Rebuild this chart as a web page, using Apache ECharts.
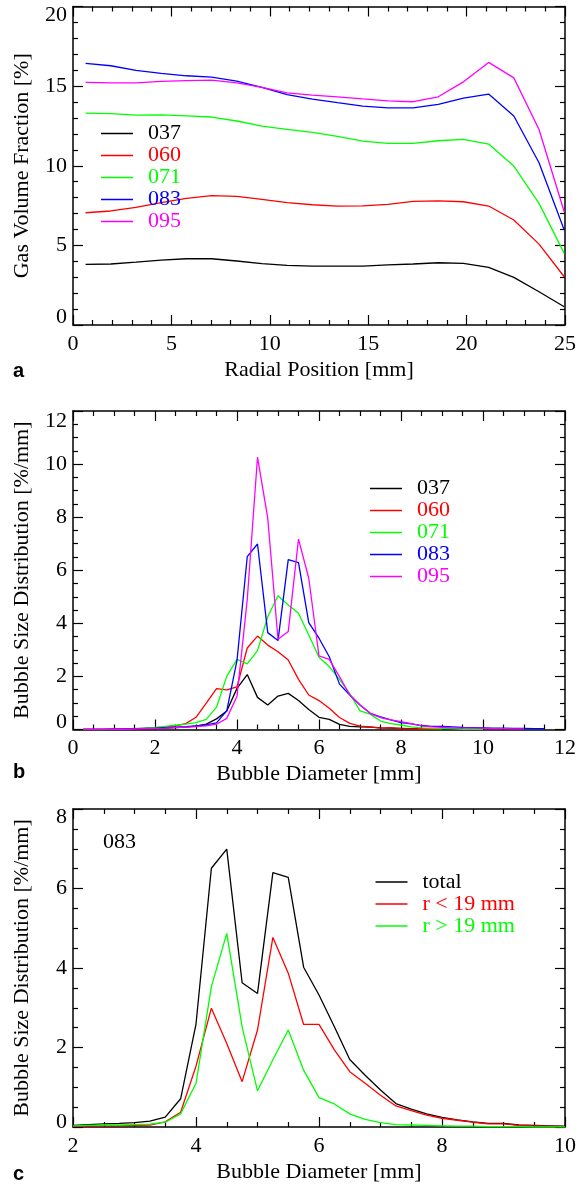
<!DOCTYPE html>
<html>
<head>
<meta charset="utf-8">
<script src="https://cdn.jsdelivr.net/npm/echarts@6/dist/echarts.min.js"></script>
<style>html,body{margin:0;padding:0;background:#fff;}#c{width:579px;height:1189px;}</style>
</head>
<body>
<div id="c"></div>
<script>
// ---------- Panel a: gas volume fraction vs radial position ----------
const radialPos = [0.64,1.92,3.2,4.48,5.76,7.04,8.32,9.6,10.88,12.16,13.44,14.72,16.0,17.28,18.56,19.84,21.12,22.4,23.68,24.96];
const gvf037 = [3.81,3.83,3.95,4.08,4.16,4.16,4.02,3.85,3.75,3.7,3.7,3.7,3.77,3.83,3.91,3.87,3.62,2.99,2.09,1.15];
const gvf060 = [7.05,7.16,7.39,7.68,7.95,8.12,8.08,7.89,7.68,7.55,7.47,7.48,7.58,7.76,7.8,7.74,7.47,6.59,5.08,3.03];
const gvf071 = [13.31,13.27,13.18,13.2,13.13,13.06,12.81,12.49,12.28,12.09,11.84,11.55,11.4,11.4,11.57,11.66,11.36,9.98,7.64,4.5];
const gvf083 = [16.43,16.28,15.99,15.8,15.65,15.57,15.32,14.92,14.46,14.19,13.96,13.75,13.64,13.64,13.85,14.25,14.5,13.12,10.19,5.96];
const gvf095 = [15.23,15.2,15.2,15.3,15.35,15.38,15.2,14.92,14.58,14.44,14.33,14.2,14.08,14.02,14.33,15.27,16.49,15.52,12.28,7.11];

// ---------- Panel b: bubble size distribution per case ----------
const diamB = [0.25,0.5,0.75,1.0,1.25,1.5,1.75,2.0,2.25,2.5,2.75,3.0,3.25,3.5,3.75,4.0,4.25,4.5,4.75,5.0,5.25,5.5,5.75,6.0,6.25,6.5,6.75,7.0,7.25,7.5,7.75,8.0,8.25,8.5,8.75,9.0,9.25,9.5,9.75,10.0,10.25,10.5,10.75,11.0,11.25,11.5];
const bsd037 = [0,0,0,0.01,0.01,0.02,0.03,0.04,0.05,0.07,0.09,0.13,0.2,0.4,0.7,1.55,2.07,1.21,0.92,1.26,1.36,1.09,0.75,0.46,0.38,0.19,0.12,0.1,0.09,0.06,0.05,0.04,0.03,0.02,0.02,0.01,0.01,0.0];
const bsd060 = [0,0,0,0.01,0.01,0.02,0.04,0.06,0.09,0.14,0.22,0.46,0.99,1.54,1.49,1.61,3.07,3.52,3.18,2.93,2.62,1.89,1.3,1.09,0.8,0.45,0.23,0.13,0.1,0.05,0.07,0.03,0.02,0.01,0.01,0.0];
const bsd071 = [0,0,0,0.01,0.02,0.03,0.05,0.08,0.12,0.16,0.2,0.26,0.38,0.84,2.0,2.64,2.47,2.97,4.25,5.04,4.69,4.38,3.56,2.72,2.37,1.89,1.35,0.7,0.58,0.32,0.22,0.17,0.1,0.06,0.04,0.03,0.02,0.01,0.01,0.0];
const bsd083 = [0,0,0,0.01,0.02,0.03,0.04,0.05,0.07,0.09,0.11,0.14,0.17,0.25,0.7,2.6,6.51,6.99,3.65,3.35,6.4,6.29,4.03,3.44,2.74,1.71,1.3,0.92,0.61,0.48,0.36,0.26,0.21,0.15,0.12,0.12,0.1,0.08,0.07,0.06,0.05,0.05,0.04,0.04,0.03,0.03];
const bsd095 = [0,0,0,0.01,0.01,0.02,0.03,0.04,0.05,0.07,0.09,0.11,0.14,0.2,0.42,1.25,4.9,10.26,7.96,3.4,3.69,7.17,5.7,2.77,2.64,1.99,1.3,0.92,0.61,0.45,0.36,0.3,0.22,0.14,0.1,0.08,0.06,0.05,0.05,0.04,0.03,0.03,0.02,0.02];

// ---------- Panel c: case 083 split by radius ----------
const diamC = [2.0,2.25,2.5,2.75,3.0,3.25,3.5,3.75,4.0,4.25,4.5,4.75,5.0,5.25,5.5,5.75,6.0,6.25,6.5,6.75,7.0,7.25,7.5,7.75,8.0,8.25,8.5,8.75,9.0,9.25,9.5,9.75,10.0];
const bsdTotal = [0.04,0.06,0.08,0.09,0.11,0.15,0.25,0.71,2.59,6.51,6.99,3.63,3.36,6.4,6.28,4.02,3.32,2.52,1.7,1.3,0.93,0.59,0.45,0.33,0.24,0.18,0.13,0.09,0.09,0.05,0.04,0.03,0.02];
const bsdInner = [0.02,0.02,0.03,0.03,0.04,0.05,0.13,0.37,1.53,2.99,2.1,1.14,2.44,4.77,3.87,2.58,2.58,1.94,1.39,1.1,0.8,0.53,0.41,0.3,0.22,0.17,0.12,0.08,0.08,0.04,0.03,0.02,0.01];
const bsdOuter = [0.03,0.04,0.05,0.05,0.06,0.07,0.12,0.33,1.1,3.53,4.87,2.52,0.91,1.69,2.44,1.43,0.74,0.58,0.33,0.19,0.11,0.06,0.05,0.04,0.03,0.02,0.02,0.01,0.01,0.01,0.0,0.0,0.0];

const namesB = ['037','060','071','083','095'];
const namesC = ['total','r < 19 mm','r > 19 mm'];
const xTicksA = {min:0, max:25, interval:5, minor:5};
const yTicksA = {min:0, max:20, interval:5, minor:5};
const xTicksB = {min:0, max:12, interval:2, minor:4};
const yTicksB = {min:0, max:12, interval:2, minor:4};
const xTicksC = {min:2, max:10, interval:2, minor:4};
const yTicksC = {min:0, max:8, interval:2, minor:4};

const COLORS = ['#000000','#ff0000','#00ff00','#0000ff','#ff00ff'];
const FONT = '"Liberation Serif","Times New Roman",serif';
const FS = 22;

function pairs(xs, ys){ return ys.map((y,i)=>[xs[i], y]); }

function axisCommon(t){
  return {
    type:'value', min:t.min, max:t.max, interval:t.interval,
    axisLine:{show:true, onZero:false, lineStyle:{color:'#000', width:1.5}},
    axisTick:{show:true, inside:true, length:10, lineStyle:{color:'#000', width:1.2}},
    minorTick:{show:true, splitNumber:t.minor, length:5, lineStyle:{color:'#000', width:1.2}},
    splitLine:{show:false}, minorSplitLine:{show:false}
  };
}
function xAxesFor(g, t, name){
  const b = Object.assign(axisCommon(t), {
    gridIndex:g, position:'bottom',
    axisLabel:{show:true, margin:8, color:'#000', fontFamily:FONT, fontSize:FS},
    name:name, nameLocation:'middle', nameGap:34,
    nameTextStyle:{color:'#000', fontFamily:FONT, fontSize:FS}
  });
  const tp = Object.assign(axisCommon(t), {gridIndex:g, position:'top', axisLabel:{show:false}});
  return [b, tp];
}
function yAxesFor(g, t, name, padTop, padBot){
  const l = Object.assign(axisCommon(t), {
    gridIndex:g, position:'left',
    axisLabel:{show:true, margin:6, color:'#000', fontFamily:FONT, fontSize:FS,
      formatter:function(v){
        if (v === t.max) return '{t|' + v + '}';
        if (v === t.min) return '{b|' + v + '}';
        return String(v);
      },
      rich:{
        t:{padding:[padTop,0,0,0], fontFamily:FONT, fontSize:FS, color:'#000'},
        b:{padding:[0,0,padBot,0], fontFamily:FONT, fontSize:FS, color:'#000'}
      }
    },
    name:name, nameLocation:'middle', nameGap:40,
    nameTextStyle:{color:'#000', fontFamily:FONT, fontSize:FS}
  });
  const r = Object.assign(axisCommon(t), {gridIndex:g, position:'right', axisLabel:{show:false}});
  return [l, r];
}
function lineSeries(name, data, color, xi, yi){
  return {type:'line', name:name, data:data, xAxisIndex:xi, yAxisIndex:yi,
    symbol:'none', showSymbol:false, smooth:false, clip:true,
    lineStyle:{color:color, width:1.3}, itemStyle:{color:color}, emphasis:{disabled:true}};
}
function legendFor(names, colors, left, top){
  return {
    orient:'vertical', left:left, top:top, itemGap:0, itemWidth:32, itemHeight:1.5,
    icon:'rect', selectedMode:false, padding:5,
    textStyle:{fontFamily:FONT, fontSize:FS, lineHeight:21, padding:[0,0,0,10]},
    data:names.map((n,i)=>({name:n, itemStyle:{color:colors[i]}, textStyle:{color:colors[i]}}))
  };
}

const chart = echarts.init(document.getElementById('c'), null, {renderer:'canvas'});
const seriesA = [gvf037,gvf060,gvf071,gvf083,gvf095].map((ys,i)=>lineSeries(namesB[i], pairs(radialPos, ys), COLORS[i], 0, 0));
const seriesB = [bsd037,bsd060,bsd071,bsd083,bsd095].map((ys,i)=>lineSeries(namesB[i], pairs(diamB, ys), COLORS[i], 2, 2));
const colorsC = ['#000000','#ff0000','#00ff00'];
const seriesC = [bsdTotal,bsdInner,bsdOuter].map((ys,i)=>lineSeries(namesC[i], pairs(diamC, ys), colorsC[i], 4, 4));

chart.setOption({
  animation:false,
  backgroundColor:'#fff',
  grid:[
    {left:73, top:6.5, width:494, height:318.5},
    {left:73, top:411, width:493, height:318.5},
    {left:73, top:809, width:492, height:318}
  ],
  xAxis:[].concat(
    xAxesFor(0, xTicksA, 'Radial Position [mm]'),
    xAxesFor(1, xTicksB, 'Bubble Diameter [mm]'),
    xAxesFor(2, xTicksC, 'Bubble Diameter [mm]')
  ),
  yAxis:[].concat(
    yAxesFor(0, yTicksA, 'Gas Volume Fraction [%]', 17, 16),
    yAxesFor(1, yTicksB, 'Bubble Size Distribution [%/mm]', 20, 15),
    yAxesFor(2, yTicksC, 'Bubble Size Distribution [%/mm]', 16, 10)
  ),
  legend:[
    legendFor(namesB, COLORS, 96, 117.5),
    Object.assign(legendFor(namesB, COLORS, 365, 472.5)),
    legendFor(namesC, colorsC, 370.5, 866)
  ],
  graphic:[
    {type:'text', left:13, top:361, style:{text:'a', font:'bold 20px "Liberation Sans", Arial, sans-serif', fill:'#000'}},
    {type:'text', left:13, top:762, style:{text:'b', font:'bold 20px "Liberation Sans", Arial, sans-serif', fill:'#000'}},
    {type:'text', left:13, top:1164, style:{text:'c', font:'bold 20px "Liberation Sans", Arial, sans-serif', fill:'#000'}},
    {type:'text', left:103, top:831, style:{text:'083', font:FS + 'px ' + FONT, fill:'#000'}}
  ],
  series:[].concat(seriesA, seriesB, seriesC)
});
</script>
</body>
</html>
